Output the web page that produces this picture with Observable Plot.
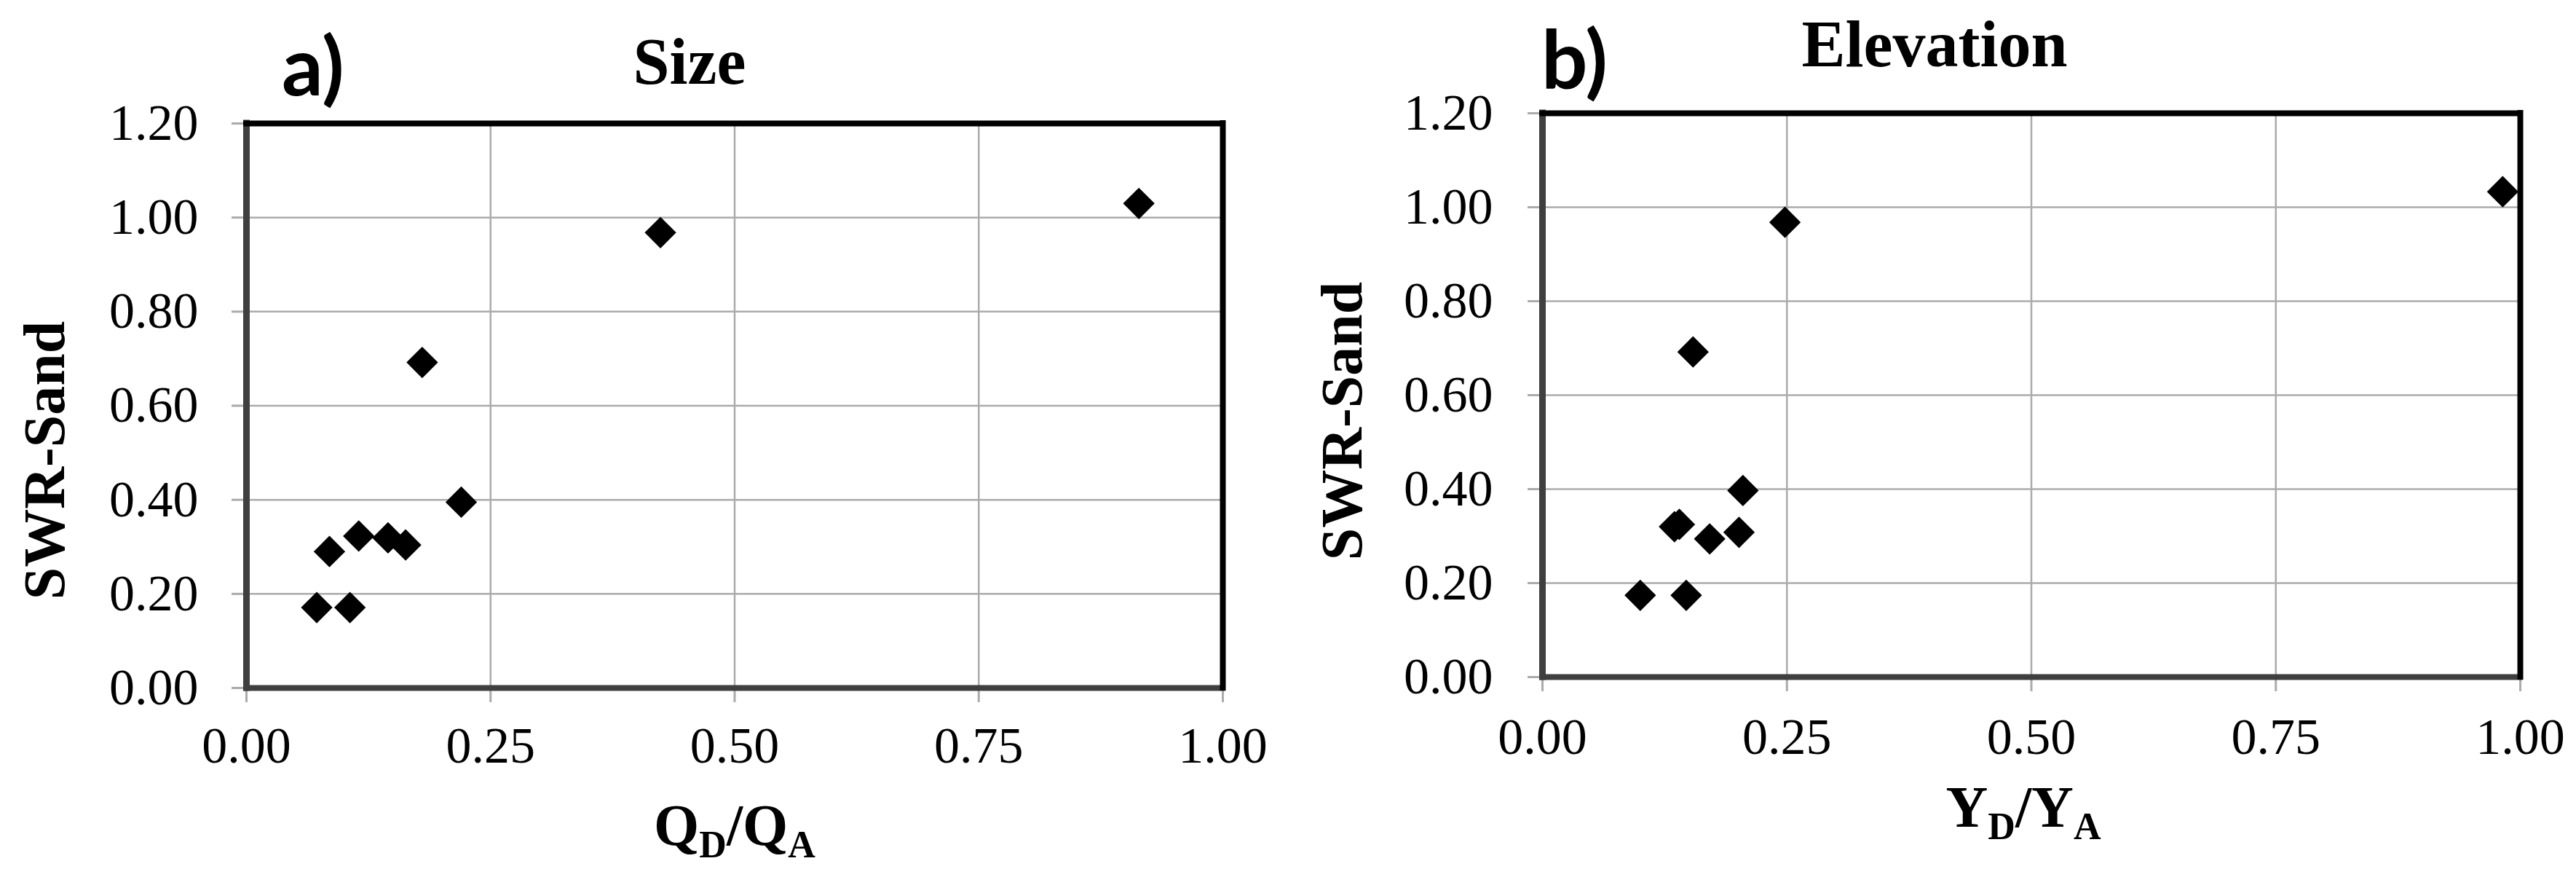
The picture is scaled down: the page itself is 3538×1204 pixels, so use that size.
<!DOCTYPE html>
<html>
<head>
<meta charset="utf-8">
<script src="https://cdn.jsdelivr.net/npm/d3@7"></script>
<script src="https://cdn.jsdelivr.net/npm/@observablehq/plot@0.6"></script>
<style>
  html, body { margin: 0; padding: 0; background: #fff; }
  #wrap { display: flex; width: 3538px; height: 1204px; background: #fff; }
  #wrap svg { display: block; flex: none; }
</style>
</head>
<body>
<div id="wrap"></div>
<script>
// ---- data ----
const sizeX = [0.914, 0.424, 0.180, 0.220, 0.115, 0.145, 0.163, 0.085, 0.072, 0.106]; // QD/QA
const sizeY = [1.03, 0.968, 0.692, 0.395, 0.323, 0.319, 0.304, 0.290, 0.171, 0.171]; // SWR-Sand
const elevX = [0.982, 0.248, 0.154, 0.205, 0.135, 0.140, 0.171, 0.201, 0.100, 0.147]; // YD/YA
const elevY = [1.033, 0.968, 0.692, 0.397, 0.320, 0.325, 0.294, 0.308, 0.174, 0.174]; // SWR-Sand
const yTicks = [0, 0.2, 0.4, 0.6, 0.8, 1.0, 1.2];
const xTicks = [0, 0.25, 0.5, 0.75, 1.0];
const panelTags = ["a)", "b)"];
const panelTitles = ["Size", "Elevation"];
const yLabel = "SWR-Sand";
const xLabelMain = ["Q", "Y"];
const xLabelSubs = [["D", "A"], ["D", "A"]];

const SERIF = "'Liberation Serif', 'Times New Roman', serif";
const SANS = "Lato, 'Liberation Sans', sans-serif";
const GRID = "#ababab";
const fmt = d3.format(".2f");

const layouts = [
  {ml: 338, mr: 90, mt: 169, mb: 260, yPad: 66, xPad: 53,
   tag: [387, 131], title: [947, 115], ylab: [88, 632], xlab: [1009, 1160]},
  {ml: 349, mr: 77, mt: 155, mb: 275, yPad: 68, xPad: 56,
   tag: [348, 122], title: [888, 91], ylab: [101, 578], xlab: [1010, 1135]}
];
const series = [[sizeX, sizeY], [elevX, elevY]];

const wrap = document.getElementById("wrap");

series.forEach(([xs, ys], i) => {
  const L = layouts[i];
  const data = xs.map((x, j) => ({x, y: ys[j]}));
  const svg = Plot.plot({
    width: 1769,
    height: 1204,
    marginLeft: L.ml, marginRight: L.mr, marginTop: L.mt, marginBottom: L.mb,
    style: {fontFamily: SERIF, fontSize: "70px", color: "black", background: "white", overflow: "visible"},
    x: {domain: [0, 1]},
    y: {domain: [0, 1.2]},
    marks: [
      Plot.gridX({ticks: xTicks.slice(1, -1), stroke: GRID, strokeOpacity: 1, strokeWidth: 2.5}),
      Plot.gridY({ticks: yTicks.slice(1, -1), stroke: GRID, strokeOpacity: 1, strokeWidth: 2.5}),
      Plot.axisY({ticks: yTicks, tickSize: 20, fill: "none", stroke: GRID, strokeWidth: 3, label: null}),
      Plot.axisY({ticks: yTicks, tickSize: 0, tickPadding: L.yPad, tickFormat: fmt, label: null, fill: "black"}),
      Plot.axisX({ticks: xTicks, tickSize: 20, fill: "none", stroke: GRID, strokeWidth: 3, label: null}),
      Plot.axisX({ticks: xTicks, tickSize: 0, tickPadding: L.xPad, tickFormat: fmt, label: null, fill: "black"}),
      Plot.ruleX([0], {stroke: "#3f3f3f", strokeWidth: 9, strokeLinecap: "square"}),
      Plot.ruleY([0], {stroke: "#3f3f3f", strokeWidth: 8, strokeLinecap: "square"}),
      Plot.ruleY([1.2], {stroke: "#000", strokeWidth: 8, strokeLinecap: "square"}),
      Plot.ruleX([1], {stroke: "#000", strokeWidth: 8, strokeLinecap: "square"}),
      Plot.dot(data, {x: "x", y: "y", symbol: "diamond2", r: 19.5, fill: "black", stroke: "none"})
    ]
  });
  wrap.appendChild(svg);
  const s = d3.select(svg);

  // panel tag
  s.append("text")
    .attr("x", L.tag[0]).attr("y", L.tag[1])
    .attr("text-anchor", "start")
    .attr("font-family", SANS).attr("font-weight", 700).attr("font-size", 112)
    .attr("fill", "black")
    .text(panelTags[i]);

  // title
  s.append("text")
    .attr("x", L.title[0]).attr("y", L.title[1])
    .attr("text-anchor", "middle")
    .attr("font-family", SERIF).attr("font-weight", 700).attr("font-size", 90)
    .attr("fill", "black")
    .text(panelTitles[i]);

  // y label
  s.append("text")
    .attr("transform", `translate(${L.ylab[0]},${L.ylab[1]}) rotate(-90)`)
    .attr("text-anchor", "middle")
    .attr("font-family", SERIF).attr("font-weight", 700).attr("font-size", 80)
    .attr("fill", "black")
    .text(yLabel);

  // x label with subscripts
  const t = s.append("text")
    .attr("x", L.xlab[0]).attr("y", L.xlab[1])
    .attr("text-anchor", "middle")
    .attr("font-family", SERIF).attr("font-weight", 700).attr("font-size", 80)
    .attr("fill", "black");
  const m = xLabelMain[i], [s1, s2] = xLabelSubs[i];
  t.append("tspan").text(m);
  t.append("tspan").attr("font-size", 52).attr("dy", 17).text(s1);
  t.append("tspan").attr("dy", -17).text("/" + m);
  t.append("tspan").attr("font-size", 52).attr("dy", 17).text(s2);
});
</script>
</body>
</html>
